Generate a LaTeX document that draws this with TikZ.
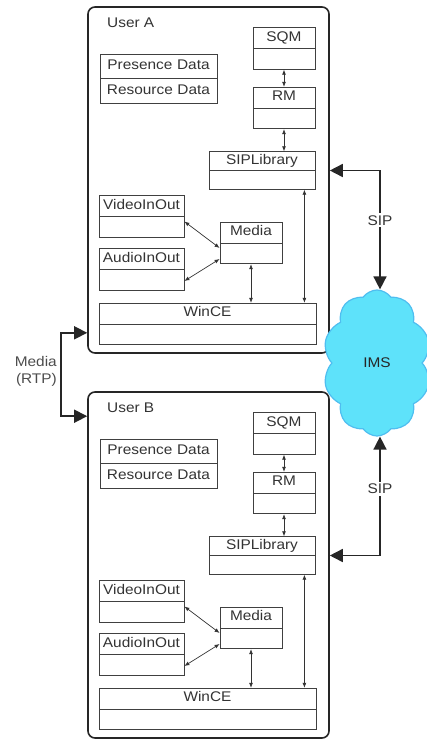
\documentclass[tikz,border=0pt]{standalone}
\usepackage{fontspec}
\setmainfont{Liberation Sans}[FakeStretch=1.1]
\usetikzlibrary{shapes.multipart,shapes.symbols,arrows.meta}
\definecolor{imsfill}{RGB}{94,226,250}
\definecolor{imsline}{RGB}{79,190,240}
\tikzset{
  every node/.style={font=\fontsize{14}{16.8}\selectfont, text=black!80},
  comp/.style={rectangle split, rectangle split parts=2, draw=black!75,
    line width=0.8pt, inner xsep=0pt, inner ysep=1.6pt, text width=#1, align=center},
  user/.style={draw=black!85, line width=1.6pt, rounded corners=7pt},
  link/.style={<->, >={Latex[length=5pt,width=4pt]}, line width=0.7pt, black!80},
  signal/.style={<->, >={Triangle[length=13pt,width=13pt]}, line width=1.6pt, black!85},
}

\begin{document}
\begin{tikzpicture}[x=1pt,y=-1pt]
  \useasboundingbox (0,0) rectangle (427,740);

  % the two terminals, same layout
  \foreach \u/\dy in {A/0,B/385}{
    \node[user, minimum width=241pt, minimum height=346pt] (user\u) at (208.5,180+\dy) {};
    \node[anchor=west, inner sep=0pt] (title\u) at (107,23+\dy) {User \u};
    \node[comp=117pt, inner ysep=3.4pt] (data\u) at (158.5,78.5+\dy) {\strut Presence Data\nodepart{two}\strut Resource Data};
    \node[comp=62pt] (sqm\u) at (284,48.5+\dy) {\strut SQM\nodepart{two}\strut};
    \node[comp=62pt] (rm\u) at (284,108+\dy) {\strut RM\nodepart{two}\strut};
    \node[comp=106pt, inner ysep=0.6pt] (sip\u) at (262,170.5+\dy) {\strut SIPLibrary\nodepart{two}\strut};
    \node[comp=85pt] (video\u) at (141.5,216.5+\dy) {\strut VideoInOut\nodepart{two}\strut};
    \node[comp=85pt] (audio\u) at (141.5,269.5+\dy) {\strut AudioInOut\nodepart{two}\strut};
    \node[comp=62pt] (media\u) at (251,243+\dy) {\strut Media\nodepart{two}\strut};
    \node[comp=217pt] (wince\u) at (207.5,324+\dy) {\strut WinCE\nodepart{two}\strut};
    \coordinate (drop\u) at ([xshift=-11pt]sip\u.south east);

    \draw[link] (sqm\u) -- (rm\u);
    \draw[link] (rm\u.south) -- (rm\u.south |- sip\u.north);
    \draw[link] (drop\u) -- (drop\u |- wince\u.north);
    \draw[link] (media\u.south) -- (media\u.south |- wince\u.north);
    \draw[link] ([yshift=-5pt]video\u.east) -- ([yshift=-5pt]media\u.west);
    \draw[link] ([yshift=-11.5pt]audio\u.east) -- ([yshift=-16pt]media\u.west);
  }

  \node[cloud, cloud puffs=10, cloud puff arc=110, cloud ignores aspect,
    minimum width=108pt, minimum height=146pt, fill=imsfill, draw=imsline,
    line width=1.2pt, text=black!85] (ims) at (377,363) {IMS};

  % signalling
  \draw[signal] (userA.east |- sipA) -| node[pos=0.71, fill=white, inner sep=2pt] (sipupper) {SIP} ([xshift=3pt]ims.north);
  \draw[signal] (userB.east |- sipB) -| node[pos=0.78, fill=white, inner sep=2pt] (siplower) {SIP} ([xshift=3pt]ims.south);

  % media stream
  \coordinate (rtp) at (61,371);
  \draw[signal] ([yshift=21pt]userA.south west) -| (rtp) |- ([yshift=-25pt]userB.north west);
  \node[anchor=east, align=right, inner sep=0pt, text=black!70] (rtplabel) at (57,371) {Media\\(RTP)};
\end{tikzpicture}
\end{document}
